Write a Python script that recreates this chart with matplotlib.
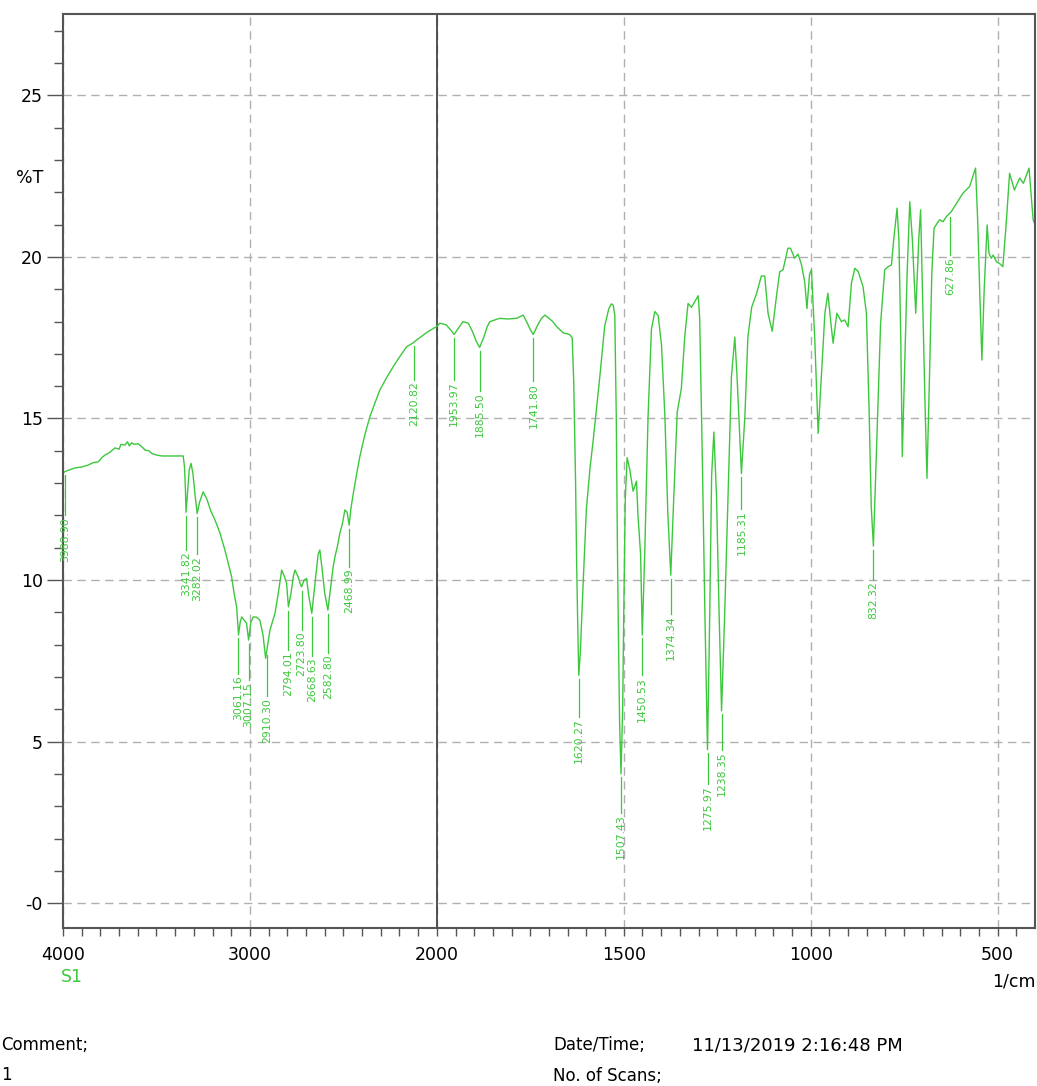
import numpy as np
import matplotlib.pyplot as plt

# IR spectrum, %T vs wavenumber (1/cm)
wavenumber = [
    4000, 3989, 3960, 3936, 3900, 3865, 3840, 3811, 3790, 3775, 3750, 3722,
    3700, 3690, 3668, 3655, 3645, 3633, 3620, 3600, 3579, 3560, 3540, 3526,
    3500, 3472, 3400, 3357, 3350, 3345, 3341.8, 3335, 3325, 3315, 3305, 3293,
    3282, 3270, 3250, 3230, 3210, 3187, 3160, 3134, 3115, 3098, 3085, 3071,
    3061, 3052, 3044, 3030, 3018, 3007, 2995, 2982, 2965, 2947, 2930, 2916,
    2905, 2893, 2880, 2866, 2848, 2830, 2815, 2804, 2794, 2780, 2768, 2759,
    2750, 2742, 2732, 2724, 2710, 2697, 2685, 2669, 2650, 2635, 2626, 2615,
    2600, 2583, 2570, 2555, 2545, 2530, 2519, 2505, 2492, 2480, 2469, 2460,
    2447, 2430, 2412, 2385, 2358, 2330, 2305, 2270, 2234, 2200, 2162, 2130,
    2108, 2080, 2050, 2020, 2000,
    1992, 1975, 1960, 1954, 1945, 1930, 1916, 1905, 1895, 1885.5, 1875, 1865,
    1858, 1845, 1832, 1810, 1787, 1769, 1760, 1750, 1742, 1730, 1720, 1711,
    1700, 1690, 1680, 1662, 1645, 1638, 1634, 1629, 1626, 1623, 1620.3, 1616,
    1609, 1600, 1590, 1582, 1564, 1551, 1540, 1533, 1528, 1524, 1520, 1517,
    1514, 1511, 1507.4, 1503, 1500, 1496, 1491, 1484, 1475, 1466, 1462, 1455,
    1450.5, 1444, 1435, 1426, 1417, 1408, 1399, 1390, 1382, 1374.3, 1366, 1357,
    1346, 1337, 1328, 1319, 1310, 1301, 1297, 1290, 1283, 1276, 1270, 1265,
    1259, 1252, 1245, 1238.4, 1230, 1221, 1212, 1203, 1197, 1185.3, 1176, 1168,
    1158, 1145, 1132, 1123, 1114, 1103, 1092, 1083, 1074, 1061, 1054, 1043,
    1034, 1025, 1016, 1010, 1003, 998, 989, 980, 971, 962, 954, 945,
    940, 930, 918, 909, 900, 891, 882, 873, 860, 851, 844, 838,
    832.3, 826, 820, 813, 802, 793, 784, 778, 769, 764, 759, 755,
    749, 742, 735, 728, 719, 711, 706, 700, 694, 689, 682, 676,
    670, 662, 655, 646, 637, 624, 610, 593, 575, 559, 553, 548,
    542, 536, 528, 523, 517, 512, 503, 495, 486, 477, 468, 455,
    441, 431, 416, 405, 400,
]
transmittance = [
    13.30, 13.36, 13.42, 13.47, 13.50, 13.56, 13.63, 13.66, 13.80, 13.87, 13.95, 14.09,
    14.05, 14.20, 14.18, 14.28, 14.15, 14.25, 14.20, 14.22, 14.13, 14.02, 14.00, 13.92,
    13.87, 13.84, 13.84, 13.84, 13.50, 12.80, 12.10, 12.60, 13.40, 13.61, 13.30, 12.60,
    12.06, 12.40, 12.73, 12.50, 12.15, 11.86, 11.45, 10.93, 10.50, 10.10, 9.60, 9.17,
    8.30, 8.70, 8.86, 8.75, 8.66, 8.14, 8.70, 8.86, 8.85, 8.76, 8.30, 7.58,
    8.00, 8.45, 8.70, 8.97, 9.60, 10.31, 10.10, 9.90, 9.17, 9.60, 10.10, 10.31,
    10.20, 10.10, 9.90, 9.79, 10.00, 10.05, 9.50, 8.97, 10.00, 10.80, 10.93, 10.40,
    9.60, 9.07, 9.70, 10.40, 10.72, 11.10, 11.44, 11.75, 12.17, 12.10, 11.70, 12.20,
    12.68, 13.25, 13.82, 14.50, 15.06, 15.50, 15.88, 16.25, 16.60, 16.90, 17.22, 17.33,
    17.43, 17.55, 17.68, 17.78, 17.85,
    17.95, 17.90, 17.70, 17.60, 17.75, 18.00, 17.95, 17.70, 17.40, 17.20, 17.50, 17.85,
    18.00, 18.05, 18.10, 18.08, 18.10, 18.20, 18.00, 17.75, 17.60, 17.90, 18.10, 18.20,
    18.10, 18.00, 17.85, 17.65, 17.60, 17.50, 16.20, 13.10, 10.50, 8.50, 7.05, 7.80,
    9.80, 12.20, 13.50, 14.30, 16.30, 17.86, 18.40, 18.55, 18.50, 18.20, 15.00, 11.00,
    8.00, 5.50, 4.00, 6.00, 9.00, 12.50, 13.79, 13.42, 12.75, 13.06, 12.00, 10.80,
    8.30, 10.80, 15.07, 17.76, 18.31, 18.19, 17.27, 15.07, 12.02, 10.15, 12.63, 15.20,
    15.93, 17.52, 18.56, 18.44, 18.62, 18.80, 18.13, 13.85, 8.96, 4.75, 8.96, 13.24,
    14.58, 12.63, 8.96, 5.95, 8.96, 12.63, 16.30, 17.52, 16.30, 13.30, 15.07, 17.52,
    18.44, 18.86, 19.41, 19.41, 18.25, 17.70, 18.74, 19.54, 19.60, 20.27, 20.27, 19.96,
    20.09, 19.78, 19.23, 18.40, 19.47, 19.60, 17.43, 14.54, 16.40, 18.26, 18.88, 17.84,
    17.33, 18.26, 18.00, 18.05, 17.84, 19.19, 19.65, 19.55, 19.08, 18.26, 15.37, 12.27,
    11.05, 13.30, 15.37, 17.95, 19.60, 19.70, 19.75, 20.53, 21.51, 20.53, 17.43, 13.82,
    16.40, 19.50, 21.71, 20.53, 18.26, 20.53, 21.46, 18.46, 15.37, 13.15, 16.40, 19.50,
    20.89, 21.04, 21.15, 21.09, 21.25, 21.40, 21.66, 21.97, 22.18, 22.75, 21.04, 18.98,
    16.81, 18.98, 20.99, 20.11, 19.96, 20.06, 19.85, 19.80, 19.70, 21.04, 22.59, 22.07,
    22.44, 22.28, 22.75, 21.15, 21.00,
]

# peak picks: position, printed value, where the printed value starts (%T)
peak_wn = [3988.90, 3341.82, 3282.02, 3061.16, 3007.15, 2910.30, 2794.01, 2723.80,
           2668.63, 2582.80, 2468.99, 2120.82, 1953.97, 1885.50, 1741.80, 1620.27,
           1507.43, 1450.53, 1374.34, 1275.97, 1238.35, 1185.31, 832.32, 627.86]
peak_text = ["3988.90", "3341.82", "3282.02", "3061.16", "3007.15", "2910.30",
             "2794.01", "2723.80", "2668.63", "2582.80", "2468.99", "2120.82",
             "1953.97", "1885.50", "1741.80", "1620.27", "1507.43", "1450.53",
             "1374.34", "1275.97", "1238.35", "1185.31", "832.32", "627.86"]
peak_label_top = [12.0, 10.93, 10.8, 7.1, 6.9, 6.4, 7.85, 8.45, 7.65, 7.75, 10.4, 16.2,
                  16.2, 15.85, 16.15, 5.76, 2.8, 7.05, 8.95, 3.7, 4.75, 12.2, 10.0, 20.05]

x_major = [4000, 3000, 2000, 1500, 1000, 500]
y_major = [0, 5, 10, 15, 20, 25]
y_labels = ["-0", "5", "10", "15", "20", "25"]

green = "#3cc83c"
dark = "#555555"


# scale doubles below 2000 1/cm
def fwd(x):
    x = np.asarray(x, dtype=float)
    return np.where(x >= 2000, x, 2 * x - 2000)


def inv(u):
    u = np.asarray(u, dtype=float)
    return np.where(u >= 2000, u, (u + 2000) / 2)


W, H = 1037, 1086
fig = plt.figure(figsize=(W / 100, H / 100), dpi=100)
ax = fig.add_axes([63 / W, 1 - 928 / H, 972 / W, 914 / H])
ax.set_xscale("function", functions=(fwd, inv))
ax.set_xlim(4000, 400)
ax.set_ylim(-0.77, 27.52)

x_minor = [v for v in list(range(3900, 2000, -100)) + list(range(1950, 400, -50))
           if v not in x_major]
ax.set_xticks(x_major)
ax.set_xticklabels([str(v) for v in x_major])
ax.set_xticks(x_minor, minor=True)
ax.set_yticks(y_major)
ax.set_yticklabels(y_labels)
ax.set_yticks(range(0, 28), minor=True)

ax.tick_params(axis="x", which="both", direction="out", length=6, width=1,
               color=dark, pad=7, labelsize=12.5)
ax.tick_params(axis="y", which="major", direction="out", length=11.5, width=1,
               color=dark, pad=3, labelsize=12.5)
ax.tick_params(axis="y", which="minor", direction="out", length=6.5, width=1,
               color=dark)
for s in ax.spines.values():
    s.set_color(dark)
    s.set_linewidth(1.5)

ax.grid(True, which="major", color="#b0b0b0", linestyle=(0, (6, 4)), linewidth=1)
ax.set_axisbelow(True)
ax.axvline(2000, color="#444444", linewidth=1.3)

ax.plot(wavenumber, transmittance, color=green, linewidth=1.0)

wn_asc = wavenumber[::-1]
t_asc = transmittance[::-1]
for wn, txt, top in zip(peak_wn, peak_text, peak_label_top):
    y0 = np.interp(wn, wn_asc, t_asc) - 0.12
    ax.plot([wn, wn], [y0, top], color=green, linewidth=0.9)
    ax.text(wn, top - 0.05, txt, rotation=90, ha="center", va="top",
            fontsize=7.8, color=green)

fig.text(43 / W, 1 - 178 / H, "%T", ha="right", va="center", fontsize=12.5)
fig.text(1036 / W, 1 - 981 / H, "1/cm", ha="right", va="center", fontsize=12.5)
fig.text(72 / W, 1 - 977 / H, "S1", ha="center", va="center", fontsize=12.5, color=green)

fig.text(1 / W, 1 - 1045 / H, "Comment;", ha="left", va="center", fontsize=12)
fig.text(1 / W, 1 - 1075 / H, "1", ha="left", va="center", fontsize=12)
fig.text(553 / W, 1 - 1045 / H, "Date/Time;", ha="left", va="center", fontsize=12)
fig.text(692 / W, 1 - 1045 / H, "11/13/2019 2:16:48 PM", ha="left", va="center", fontsize=13)
fig.text(553 / W, 1 - 1076 / H, "No. of Scans;", ha="left", va="center", fontsize=12)

fig.savefig("out.png", dpi=100)
